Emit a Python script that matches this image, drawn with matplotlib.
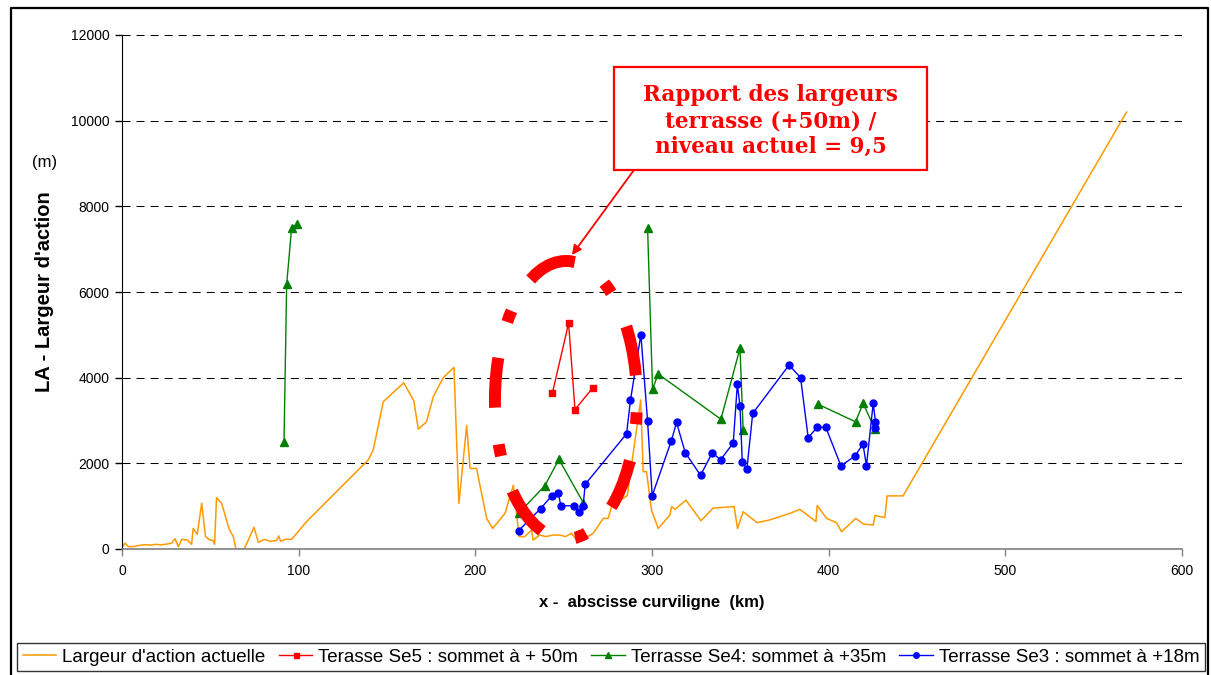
import numpy as np
import matplotlib
matplotlib.use("Agg")
import matplotlib.pyplot as plt
from matplotlib.patches import Ellipse, Rectangle
from matplotlib.lines import Line2D

plt.rcParams['font.family'] = ['Liberation Sans', 'DejaVu Sans']
plt.rcParams['lines.scale_dashes'] = False

# --- data -------------------------------------------------------------
actuel_x = [0, 1.7, 3.6, 6.5, 9, 13, 16, 19.6, 22, 28, 30, 31.9, 33.8, 37, 39.4,
            40.3, 42.6, 45.1, 47.3, 49.8, 51.5, 52.4, 53.5, 56.4, 60.7, 63, 64.5,
            69.2, 74.7, 77.2, 80.6, 83.8, 87.5, 88.7, 89.8, 92.2, 96, 104.5, 139.4,
            142.2, 147.9, 159.5, 165.2, 167.7, 172.4, 176.2, 181.8, 187.9, 190.7,
            195.1, 197, 200.7, 206.4, 209.8, 216.8, 221.5, 224.8, 228, 231.8, 232.7,
            236.5, 240, 244, 247.9, 251, 254.4, 257.3, 262, 266.7, 272.4, 275.2,
            277.1, 286, 293.6, 295, 296.9, 299.7, 303.5, 310.1, 311.1, 313, 319.2,
            327.7, 334.6, 346.5, 348.4, 351.6, 359.5, 366.7, 378, 383.7, 392.8,
            393.5, 398.8, 404.4, 407.3, 415.4, 419.5, 425.2, 426.2, 431.8, 433.1,
            442.1, 568.6]
actuel_y = [30, 140, 55, 55, 80, 100, 90, 110, 95, 133, 240, 55, 225, 210, 110,
            480, 340, 1065, 285, 210, 200, 110, 1200, 1065, 460, 290, 0,
            0, 505, 155, 225, 180, 195, 305, 180, 225, 225, 640, 2080,
            2310, 3440, 3880, 3455, 2800, 2970, 3555, 4000, 4240, 1060,
            2880, 1880, 1880, 715, 480, 830, 1490, 290, 290, 445, 210,
            325, 290, 325, 325, 290, 365, 210, 250, 365, 715, 715,
            990, 1250, 3480, 1805, 1805, 910, 480, 790, 990, 925, 1140,
            660, 955, 990, 480, 870, 615, 680, 830, 925, 640,
            1015, 715, 615, 405, 715, 585, 560, 780, 735, 1240,
            1240, 10200]

se5_x = [243.6, 252.8, 256.4, 266.4]
se5_y = [3640, 5270, 3255, 3760]

se4_x = [91.7, 93.2, 96.0, 99.2, np.nan,
         224.9, 239.4, 247.3, 261.1, np.nan,
         297.5, 300.3, 303.5, 339.0, 349.8, 351.6, np.nan,
         393.7, 415.2, 419.5, 426.2]
se4_y = [2490, 6180, 7490, 7590, np.nan,
         850, 1480, 2095, 1080, np.nan,
         7490, 3730, 4085, 3030, 4685, 2780, np.nan,
         3385, 2970, 3400, 2795]

se3_x = [224.5, 236.9, 243.3, 247.0, 248.4, 256.1, 258.4, 261.0, 262.2, 285.6,
         287.8, 293.7, 297.5, 300.1, 310.9, 313.9, 318.8, 327.5, 334.1, 338.8,
         346.0, 348.3, 349.8, 351.1, 353.7, 357.0, 377.6, 384.1, 388.4, 393.5,
         398.4, 406.9, 414.8, 419.4, 421.4, 425.2, 426.5, 426.2]
se3_y = [430, 940, 1245, 1305, 1010, 1010, 865, 1010, 1510, 2690,
         3470, 5005, 2990, 1245, 2520, 2955, 2250, 1720, 2250, 2080,
         2480, 3845, 3345, 2040, 1860, 3165, 4295, 4000, 2600, 2840,
         2840, 1945, 2165, 2450, 1945, 3400, 2975, 2820]

x_ticks = [0, 100, 200, 300, 400, 500, 600]
y_ticks = [0, 2000, 4000, 6000, 8000, 10000, 12000]

labels = ["Largeur d'action actuelle",
          "Terasse Se5 : sommet à + 50m",
          "Terrasse Se4: sommet à +35m",
          "Terrasse Se3 : sommet à +18m"]

note = "Rapport des largeurs\nterrasse (+50m) /\nniveau actuel = 9,5"

# --- figure -----------------------------------------------------------
W, H = 1211, 675
fig = plt.figure(figsize=(W / 100, H / 100), dpi=100)
ax = fig.add_axes([122 / W, 1 - 549 / H, (1182 - 122) / W, (549 - 35) / H])

ax.set_xlim(0, 600)
ax.set_ylim(0, 12000)
ax.set_xticks(x_ticks)
ax.set_yticks(y_ticks)
ax.tick_params(axis='both', direction='out', length=5, width=1, labelsize=10,
               colors='black', pad=4)
ax.tick_params(axis='x', pad=6)

for side in ('top', 'right'):
    ax.spines[side].set_visible(False)
ax.spines['left'].set_color('black')
ax.spines['bottom'].set_color('#808080')
ax.spines['bottom'].set_linewidth(1.2)
ax.tick_params(axis='x', colors='#808080', labelcolor='black')

ax.yaxis.grid(True, color='black', linestyle=(0, (5.8, 4.3)), linewidth=0.75)
ax.set_axisbelow(True)

h1, = ax.plot(actuel_x, actuel_y, color='#FF9900', lw=1.1, label=labels[0])
h2, = ax.plot(se5_x, se5_y, color='#FF0000', lw=1.0, marker='s', ms=4.5,
              label=labels[1])
h3, = ax.plot(se4_x, se4_y, color='#008000', lw=1.0, marker='^', ms=5.5,
              label=labels[2])
h4, = ax.plot(se3_x, se3_y, color='#0000FF', lw=1.0, marker='o', ms=5,
              label=labels[3])

# highlighted zone around the +50 m terrace (dash-dot ring)
ring = Ellipse((251.3, 3479), 80.4, 6490, fill=False, edgecolor='#FF0000',
               linewidth=8.6, linestyle=(56, (36, 26.6, 8.6, 26.6)),
               capstyle='butt', zorder=5)
ax.add_patch(ring)

# call-out box and arrow
ax.add_patch(Rectangle((278.5, 8848), 177.2, 2405, facecolor='white',
                       edgecolor='#FF0000', linewidth=1.6, zorder=7))
ax.text(367.1, 9990, note, ha='center', va='center', color='#FF0000',
        fontsize=15.5, fontweight='bold', family='DejaVu Serif',
        linespacing=1.22, zorder=8)
ax.annotate("", xy=(254.7, 6864), xytext=(289.8, 8848),
            arrowprops=dict(arrowstyle='-|>', color='#FF0000', lw=1.3,
                            mutation_scale=14, shrinkA=0, shrinkB=0),
            zorder=6)

ax.set_xlabel("x -  abscisse curviligne  (km)", fontsize=12, fontweight='bold',
              labelpad=12)
ax.set_ylabel("LA - Largeur d'action", fontsize=14.5, fontweight='bold',
              labelpad=12)
fig.text(45 / W, 1 - 163 / H, "(m)", fontsize=12, ha='center', va='center')

leg = fig.legend(handles=[h1, h2, h3, h4], labels=labels, ncol=4,
                 loc='center', mode='expand',
                 bbox_to_anchor=(17 / W, 1 - 673 / H, 1188 / W, 32 / H),
                 borderaxespad=0, fontsize=13.5, frameon=True, fancybox=False,
                 edgecolor='black', handlelength=1.8, handletextpad=0.3,
                 columnspacing=0.3, borderpad=0.3, markerscale=0.8)
leg.get_frame().set_linewidth(1.0)

# outer chart frame
fig.add_artist(Line2D([11 / W, 11 / W, 1208 / W, 1208 / W],
                      [0, 1 - 8 / H, 1 - 8 / H, 0],
                      transform=fig.transFigure, color='black', lw=1.6))

fig.savefig("out.png", dpi=100)
